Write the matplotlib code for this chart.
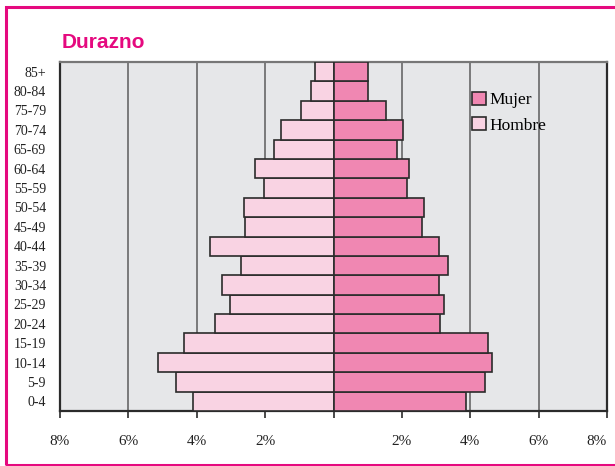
import numpy as np
import matplotlib
import matplotlib.pyplot as plt
from matplotlib.patches import Rectangle
from matplotlib import font_manager

matplotlib.use('agg')

# data (percent of population)
age_groups = ["0-4", "5-9", "10-14", "15-19", "20-24", "25-29", "30-34", "35-39",
              "40-44", "45-49", "50-54", "55-59", "60-64", "65-69", "70-74",
              "75-79", "80-84", "85+"]
hombre = [4.12, 4.60, 5.13, 4.36, 3.46, 3.03, 3.25, 2.72,
          3.60, 2.59, 2.62, 2.02, 2.29, 1.75, 1.53, 0.95, 0.65, 0.53]
mujer = [3.89, 4.43, 4.65, 4.52, 3.11, 3.23, 3.09, 3.35,
         3.09, 2.59, 2.66, 2.14, 2.22, 1.85, 2.02, 1.54, 1.02, 1.02]
tick_vals = [-8, -6, -4, -2, 0, 2, 4, 6, 8]
tick_labels = ["8%", "6%", "4%", "2%", "", "2%", "4%", "6%", "8%"]

MAGENTA = "#E5097F"
MUJER_COLOR = "#F087B2"
HOMBRE_COLOR = "#F9D3E3"
EDGE = "#2b2b2b"
SERIF = ["Liberation Serif", "DejaVu Serif"]

names = {f.name for f in font_manager.fontManager.ttflist}
title_font = "Liberation Sans Narrow" if "Liberation Sans Narrow" in names else "Liberation Sans"

fig = plt.figure(figsize=(6.15, 4.66), dpi=100)
fig.patch.set_facecolor("white")

# magenta frame around the whole panel (right side runs off the picture)
fig.patches.append(Rectangle((6 / 615, 1 / 466), 1.2, 458 / 466, transform=fig.transFigure,
                             fill=False, edgecolor=MAGENTA, linewidth=2.2, clip_on=False))

ax = fig.add_axes([60 / 615, 55 / 466, 547 / 615, 349 / 466])
ax.set_facecolor("#E6E7E9")

y = np.arange(len(age_groups))
ax.barh(y, [-v for v in hombre], height=1.0, color=HOMBRE_COLOR, edgecolor=EDGE,
        linewidth=1.2, label="Hombre", zorder=3)
ax.barh(y, mujer, height=1.0, color=MUJER_COLOR, edgecolor=EDGE,
        linewidth=1.2, label="Mujer", zorder=3)

ax.set_xlim(-8, 8)
ax.set_ylim(-0.5, len(age_groups) - 0.5)
for v in tick_vals[1:-1]:
    ax.axvline(v, color="#7a7a7a", linewidth=1.4, zorder=1)

ax.set_xticks(tick_vals)
ax.set_xticklabels(tick_labels, fontfamily=SERIF, fontsize=11, color="#222222")
ax.get_xticklabels()[-1].set_horizontalalignment("right")
ax.set_yticks(y)
ax.set_yticklabels(age_groups, fontfamily=SERIF, fontsize=10, color="#222222")
ax.tick_params(axis="y", length=0, pad=10)
ax.tick_params(axis="x", length=5, width=1.2, color=EDGE, pad=12)

for side in ["left", "right", "bottom"]:
    ax.spines[side].set_color(EDGE)
    ax.spines[side].set_linewidth(1.6)
ax.spines["top"].set_color("#777777")
ax.spines["top"].set_linewidth(1.6)

handles, labels = ax.get_legend_handles_labels()
leg = ax.legend(handles[::-1], labels[::-1], loc="upper left", bbox_to_anchor=(0.74, 0.935),
                frameon=False, prop={"family": SERIF, "size": 12.5},
                handlelength=0.8, handleheight=0.8, handletextpad=0.2, labelspacing=0.5,
                borderaxespad=0)

fig.text(62 / 615, 1 - 48 / 466, "Durazno", fontfamily=title_font, fontweight="bold",
         fontsize=15, color=MAGENTA, ha="left", va="baseline")

fig.savefig("out.png", dpi=100)
